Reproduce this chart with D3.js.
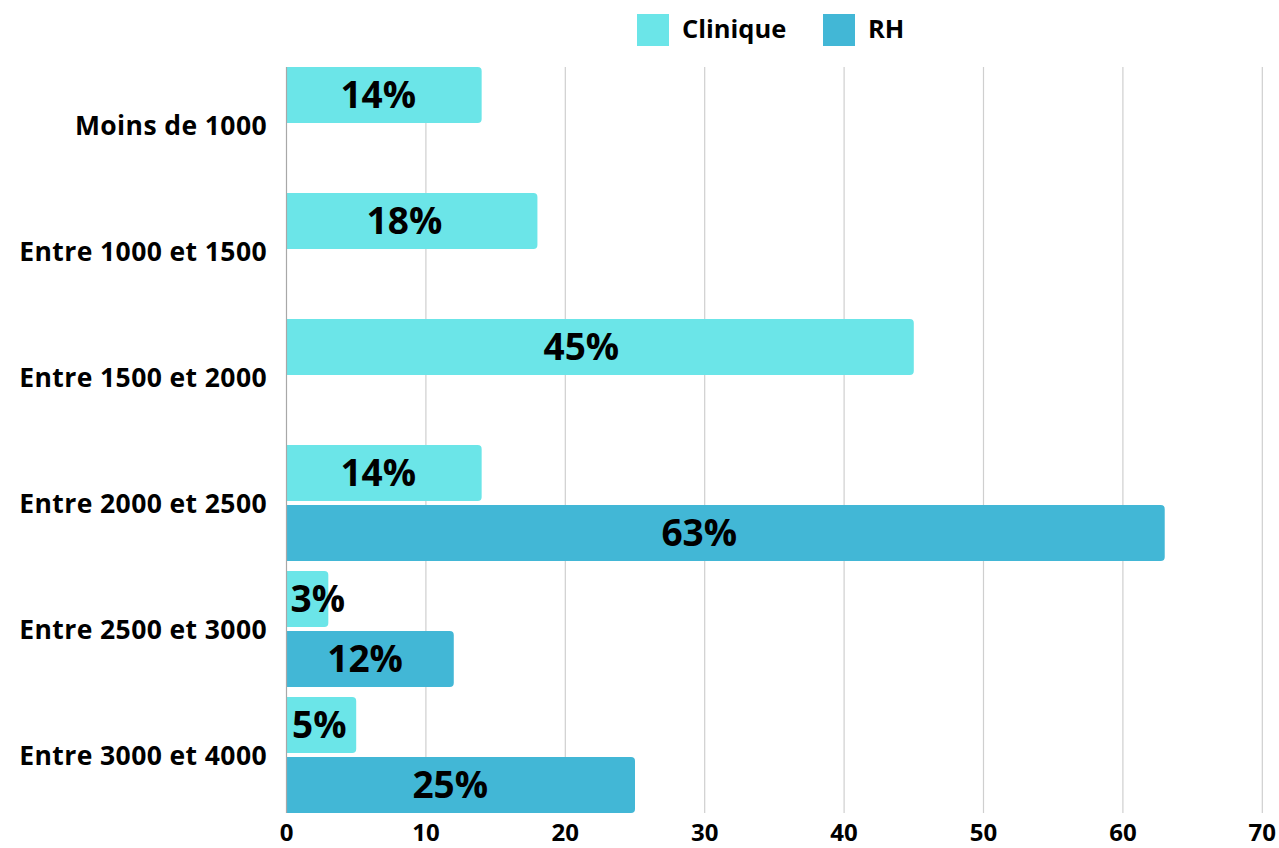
<!DOCTYPE html>
<html>
<head>
<meta charset="utf-8">
<script src="https://cdn.jsdelivr.net/npm/d3@7"></script>
<style>
  html, body { margin: 0; padding: 0; background: #ffffff; }
  svg { display: block; font-family: "Open Sans", "DejaVu Sans", sans-serif; }
</style>
</head>
<body>
<svg id="chart" width="1279" height="848"></svg>
<script>
// ---- Data ----
const categories = ["Moins de 1000", "Entre 1000 et 1500", "Entre 1500 et 2000", "Entre 2000 et 2500", "Entre 2500 et 3000", "Entre 3000 et 4000"];
const seriesNames = ["Clinique", "RH"];
const cliniqueValues = [14, 18, 45, 14, 3, 5];
const rhValues = [null, null, null, 63, 12, 25];
const xTicks = [0, 10, 20, 30, 40, 50, 60, 70];
const colors = ["#6be5e8", "#42b7d6"];

// ---- Layout ----
const svg = d3.select("#chart");
const plotLeft = 286.5, plotRight = 1262.3, plotTop = 62, plotBottom = 818;

const x = d3.scaleLinear().domain([0, 70]).range([plotLeft, plotRight]);
const y = d3.scaleBand().domain(categories).range([plotTop, plotBottom])
  .paddingInner(10 / 126).paddingOuter(5 / 126);
const ySub = d3.scaleBand().domain(seriesNames).range([0, y.bandwidth()])
  .paddingInner(4 / 60).paddingOuter(0);

const gridTop = y(categories[0]);
const gridBottom = y(categories[categories.length - 1]) + y.bandwidth();

// Gridlines
svg.append("g").selectAll("line").data(xTicks.filter(d => d > 0)).join("line")
  .attr("x1", d => x(d)).attr("x2", d => x(d))
  .attr("y1", gridTop).attr("y2", gridBottom)
  .attr("stroke", "#cfcfcf").attr("stroke-width", 1.2);

// Bars
const rows = [];
categories.forEach((c, i) => {
  rows.push({ cat: c, s: "Clinique", v: cliniqueValues[i] });
  rows.push({ cat: c, s: "RH", v: rhValues[i] });
});
const data = rows.filter(d => d.v != null);

function barPath(x0, y0, w, h, r) {
  r = Math.min(r, w / 2, h / 2);
  return `M${x0},${y0}H${x0 + w - r}Q${x0 + w},${y0} ${x0 + w},${y0 + r}V${y0 + h - r}Q${x0 + w},${y0 + h} ${x0 + w - r},${y0 + h}H${x0}Z`;
}

svg.append("g").selectAll("path").data(data).join("path")
  .attr("d", d => barPath(x(0), y(d.cat) + ySub(d.s), x(d.v) - x(0), ySub.bandwidth(), 4))
  .attr("fill", d => colors[seriesNames.indexOf(d.s)]);

// Axis line at 0
svg.append("line")
  .attr("x1", x(0)).attr("x2", x(0))
  .attr("y1", gridTop).attr("y2", gridBottom)
  .attr("stroke", "#a8a8a8").attr("stroke-width", 1.2);

// Value labels
const labels = svg.append("g").selectAll("text").data(data).join("text")
  .attr("y", d => y(d.cat) + ySub(d.s) + ySub.bandwidth() / 2)
  .attr("dy", "0.36em")
  .attr("text-anchor", "middle")
  .attr("font-size", 37)
  .attr("font-weight", 700)
  .attr("fill", "#000")
  .text(d => d.v + "%");
labels.each(function(d) {
  const w = this.getComputedTextLength();
  const center = x(0) + 0.94 * (x(d.v) - x(0)) / 2;
  const minCenter = x(0) + 4 + w / 2;
  d3.select(this).attr("x", Math.max(center, minCenter));
});

// Category labels
svg.append("g").selectAll("text").data(categories).join("text")
  .attr("x", 267)
  .attr("y", d => y(d) + y.bandwidth() / 2)
  .attr("dy", "0.36em")
  .attr("text-anchor", "end")
  .attr("font-size", 26.5)
  .attr("font-weight", 700)
  .attr("letter-spacing", 0.4)
  .attr("fill", "#000")
  .text(d => d);

// X tick labels
svg.append("g").selectAll("text").data(xTicks).join("text")
  .attr("x", d => x(d))
  .attr("y", 841)
  .attr("text-anchor", "middle")
  .attr("font-size", 24)
  .attr("font-weight", 700)
  .attr("fill", "#000")
  .text(d => d);

// Legend
const legendX = [637, 823];
const legend = svg.append("g").selectAll("g").data(seriesNames).join("g")
  .attr("transform", (d, i) => `translate(${legendX[i]},14)`);
legend.append("rect").attr("width", 32).attr("height", 32)
  .attr("fill", (d, i) => colors[i]);
legend.append("text").attr("x", 45).attr("y", 23.5)
  .attr("font-size", 25.5).attr("font-weight", 700).attr("fill", "#000")
  .text(d => d);
</script>
</body>
</html>
